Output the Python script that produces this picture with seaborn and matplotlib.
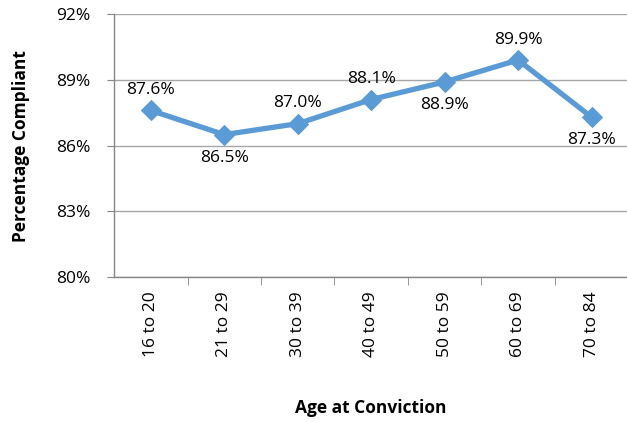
import numpy as np
import pandas as pd
import seaborn as sns
import matplotlib.pyplot as plt

sns.set_style("white")
plt.rcParams['font.family'] = ['Open Sans', 'DejaVu Sans']
plt.rcParams['text.color'] = 'black'
plt.rcParams['axes.labelcolor'] = 'black'
plt.rcParams['xtick.color'] = 'black'
plt.rcParams['ytick.color'] = 'black'

age_groups = ['16 to 20', '21 to 29', '30 to 39', '40 to 49', '50 to 59', '60 to 69', '70 to 84']
compliance = [87.6, 86.5, 87.0, 88.1, 88.9, 89.9, 87.3]
label_pos = ['above', 'below', 'above', 'above', 'below', 'above', 'below']
y_ticks = [80, 83, 86, 89, 92]

df = pd.DataFrame({'age': age_groups, 'pct': compliance})
df['x'] = range(len(df))

fig = plt.figure(figsize=(6.27, 4.22), dpi=100)
ax = fig.add_axes([0.182, 0.343, 0.82, 0.624])

for y in y_ticks:
    ax.axhline(y, color='#a6a6a6', lw=1, zorder=0)

sns.lineplot(data=df, x='x', y='pct', ax=ax, color='#5b9bd5', lw=3.8,
             marker='D', markersize=10, markeredgecolor='#5b9bd5', zorder=3)

for xi, v, pos in zip(df['x'], compliance, label_pos):
    off = 9 if pos == 'above' else -11
    ax.annotate(f'{v:.1f}%', (xi, v), xytext=(0, off), textcoords='offset points',
                ha='center', va='bottom' if pos == 'above' else 'top', fontsize=12.5)

ax.set_xlim(-0.5, len(age_groups) - 0.5)
ax.set_ylim(80, 92)
ax.set_yticks(y_ticks)
ax.set_yticklabels([f'{t}%' for t in y_ticks], fontsize=12.5)
ax.set_xticks(df['x'])
ax.set_xticklabels(age_groups, rotation=90, fontsize=12.5)
ax.tick_params(axis='x', length=0, pad=10)
ax.tick_params(axis='y', length=5, color='#868686', pad=12)
ax.set_xticks(np.arange(0.5, len(age_groups) - 0.5, 1), minor=True)
ax.tick_params(axis='x', which='minor', length=6, color='#868686', direction='out', bottom=True)
ax.tick_params(axis='y', which='major', left=True, direction='out')

for s in ['top', 'right']:
    ax.spines[s].set_visible(False)
for s in ['left', 'bottom']:
    ax.spines[s].set_color('#868686')
    ax.spines[s].set_linewidth(1)

ax.set_xlabel('Age at Conviction', fontsize=12.5, fontweight='bold', labelpad=30)
ax.set_ylabel('Percentage Compliant', fontsize=12.5, fontweight='bold', labelpad=19)

fig.savefig('out.png', dpi=100)
